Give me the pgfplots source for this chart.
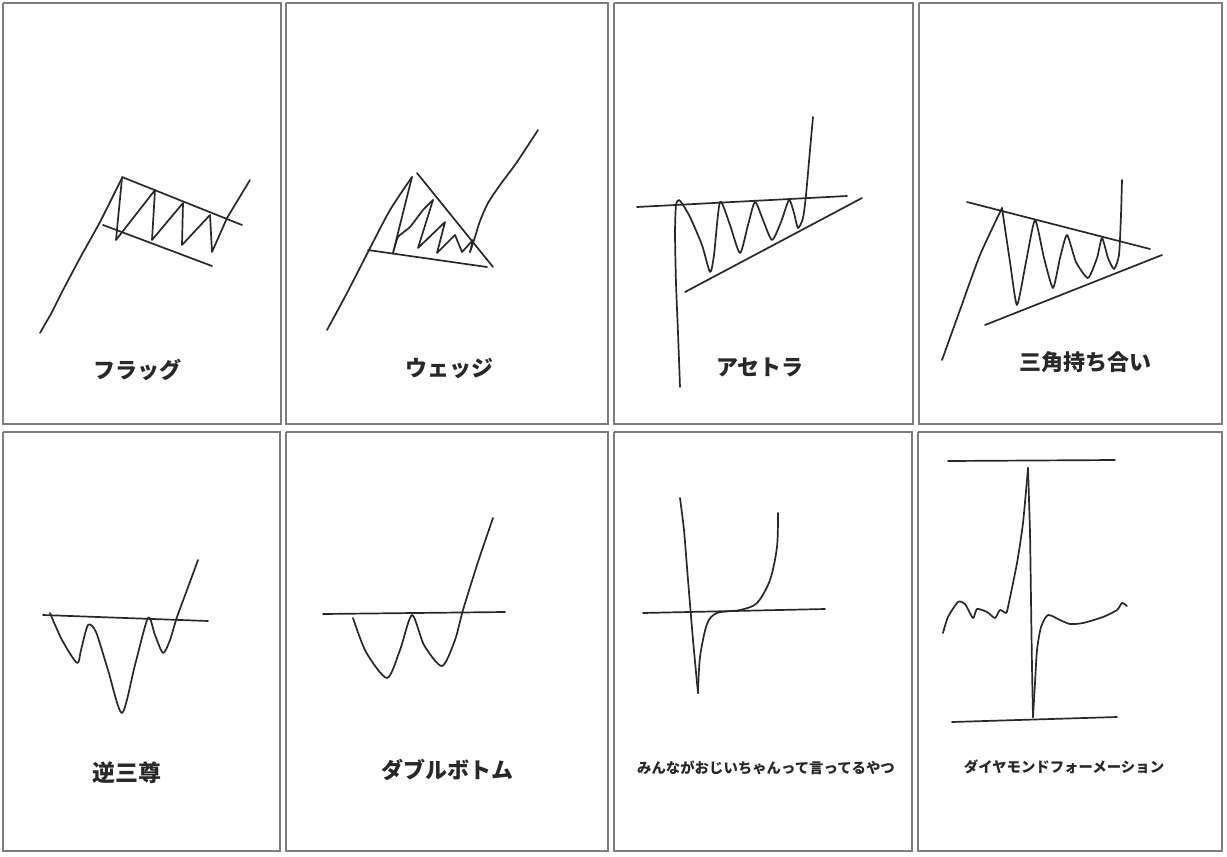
\documentclass[border=0pt]{standalone}
\usepackage{fontspec}
\usepackage{pgfplots}
\pgfplotsset{compat=1.18}
\newfontfamily\jp{Noto Sans CJK JP}
\definecolor{frame}{RGB}{125,125,125}
\definecolor{ink}{RGB}{40,40,40}
\begin{document}
\begin{tikzpicture}
\begin{axis}[
  scale only axis, width=613.5pt, height=428.5pt,
  xmin=0, xmax=1227, ymin=0, ymax=857, y dir=reverse,
  hide axis, clip=false,
  pen/.style={ink, solid, no marks, line width=0.85pt, line join=round, line cap=round},
  box/.style={frame, solid, no marks, line width=1pt},
]
\path (axis cs:0,0) rectangle (axis cs:1227,857);
% ---------- panel frames ----------
\addplot[box] coordinates {(3,3)(281,3)(281,424)(3,424)(3,3)};
\addplot[box] coordinates {(286,3)(608,3)(608,424)(286,424)(286,3)};
\addplot[box] coordinates {(614,3)(913,3)(913,424)(614,424)(614,3)};
\addplot[box] coordinates {(919,3)(1222,3)(1222,424)(919,424)(919,3)};
\addplot[box] coordinates {(3,432)(280,432)(280,851)(3,851)(3,432)};
\addplot[box] coordinates {(286,432)(608,432)(608,851)(286,851)(286,432)};
\addplot[box] coordinates {(614,432)(912,432)(912,851)(614,851)(614,432)};
\addplot[box] coordinates {(918,432)(1222,432)(1222,851)(918,851)(918,432)};
% ---------- 1: flag ----------
\addplot[pen, smooth, tension=0.3] coordinates {(40,333)(52,312)(62,292)(80,258)(100,222)(122,178)};
\addplot[pen] coordinates {(122,178)(116,240)(155,190)(152,240)(183,203)(182,245)(210,215)(212,252)(227,218)(250,180)};
\addplot[pen] coordinates {(122,177)(242,225)};
\addplot[pen] coordinates {(103,225)(212,266)};
% ---------- 2: wedge ----------
\addplot[pen, smooth, tension=0.4] coordinates {(327,330)(347,293)(368,252)(390,210)(412,177)};
\addplot[pen, smooth, tension=0.3] coordinates {(412,177)(393,253)(398,237)(410,227)(423,210)(433,200)};
\addplot[pen] coordinates {(433,200)(418,248)(445,222)(437,253)(455,235)(462,252)(473,240)(470,252)};
\addplot[pen, smooth, tension=0.5] coordinates {(470,252)(475,237)(480,221)(488,203)(500,185)(517,162)(538,130)};
\addplot[pen] coordinates {(417,173)(493,267)};
\addplot[pen] coordinates {(368,250)(487,267)};
% ---------- 3: ascending triangle ----------
\addplot[pen, smooth, tension=0.4] coordinates {(680,387)(678,333)(676,283)(675,233)(676,205)(679,200)(683,205)(690,217)(702,245)(710,272)(714,255)(720,202)(730,225)(740,253)(748,225)(755,202)(763,220)(772,240)(781,222)(789,200)(794,213)(798,228)(803,218)(806,195)(810,150)(813,117)};
\addplot[pen] coordinates {(637,207)(847,196)};
\addplot[pen] coordinates {(685,292)(862,198)};
% ---------- 4: symmetrical triangle ----------
\addplot[pen, smooth, tension=0.4] coordinates {(942,360)(960,310)(980,255)(1002,208)};
\addplot[pen, smooth, tension=0.35] coordinates {(1002,208)(1010,262)(1017,305)(1026,262)(1035,220)(1044,258)(1053,288)(1060,258)(1067,235)(1076,262)(1088,278)(1097,258)(1102,238)(1108,258)(1114,269)(1119,255)(1121,215)(1122,180)};
\addplot[pen] coordinates {(967,202)(1150,249)};
\addplot[pen] coordinates {(985,325)(1162,255)};
% ---------- 5: inverse head and shoulders ----------
\addplot[pen] coordinates {(43,615)(208,621)};
\addplot[pen, smooth, tension=0.45] coordinates {(50,613)(62,640)(77,663)(81,650)(88,625)(96,632)(108,670)(122,713)(135,665)(148,618)(155,635)(163,653)(170,640)(177,617)(187,590)(198,560)};
% ---------- 6: double bottom ----------
\addplot[pen] coordinates {(323,614)(505,612)};
\addplot[pen, smooth, tension=0.45] coordinates {(353,618)(366,652)(387,678)(400,650)(412,615)(424,645)(442,666)(455,640)(463,610)(478,562)(493,518)};
% ---------- 7 ----------
\addplot[pen] coordinates {(643,613)(825,609)};
\addplot[pen, smooth, tension=0.3] coordinates {(680,498)(684,530)(688,580)(693,640)(698,693)};
\addplot[pen, smooth, tension=0.5] coordinates {(698,693)(700,657)(707,624)(717,613)(740,610)(757,603)(770,580)(777,547)(778,513)};
% ---------- 8: diamond formation ----------
\addplot[pen] coordinates {(948,461)(1115,460)};
\addplot[pen] coordinates {(952,722)(1117,717)};
\addplot[pen, smooth, tension=0.4] coordinates {(943,633)(948,617)(958,602)(965,604)(973,618)(977,609)(987,612)(995,618)(1000,610)(1006,613)(1008,607)(1017,563)(1023,523)(1028,468)};
\addplot[pen, smooth, tension=0.3] coordinates {(1028,468)(1030,533)(1031,600)(1032,667)(1033,717)};
\addplot[pen, smooth, tension=0.4] coordinates {(1033,717)(1035,683)(1037,650)(1041,627)(1048,615)(1060,620)(1070,624)(1083,623)(1103,617)(1117,610)(1122,603)(1127,606)};
% ---------- labels ----------
\node[font=\jp\bfseries\fontsize{11pt}{13pt}\selectfont, text=ink] at (axis cs:137,370) {フラッグ};
\node[font=\jp\bfseries\fontsize{11pt}{13pt}\selectfont, text=ink] at (axis cs:449,369) {ウェッジ};
\node[font=\jp\bfseries\fontsize{11pt}{13pt}\selectfont, text=ink] at (axis cs:760,367) {アセトラ};
\node[font=\jp\bfseries\fontsize{11pt}{13pt}\selectfont, text=ink] at (axis cs:1085,362) {三角持ち合い};
\node[font=\jp\bfseries\fontsize{11.5pt}{13pt}\selectfont, text=ink] at (axis cs:127,773) {逆三尊};
\node[font=\jp\bfseries\fontsize{11pt}{13pt}\selectfont, text=ink] at (axis cs:447,770) {ダブルボトム};
\node[font=\jp\bfseries\fontsize{7.2pt}{9pt}\selectfont, text=ink] at (axis cs:766,768) {みんながおじいちゃんって言ってるやつ};
\node[font=\jp\bfseries\fontsize{7.2pt}{9pt}\selectfont, text=ink] at (axis cs:1064,767) {ダイヤモンドフォーメーション};
\end{axis}
\end{tikzpicture}
\end{document}
